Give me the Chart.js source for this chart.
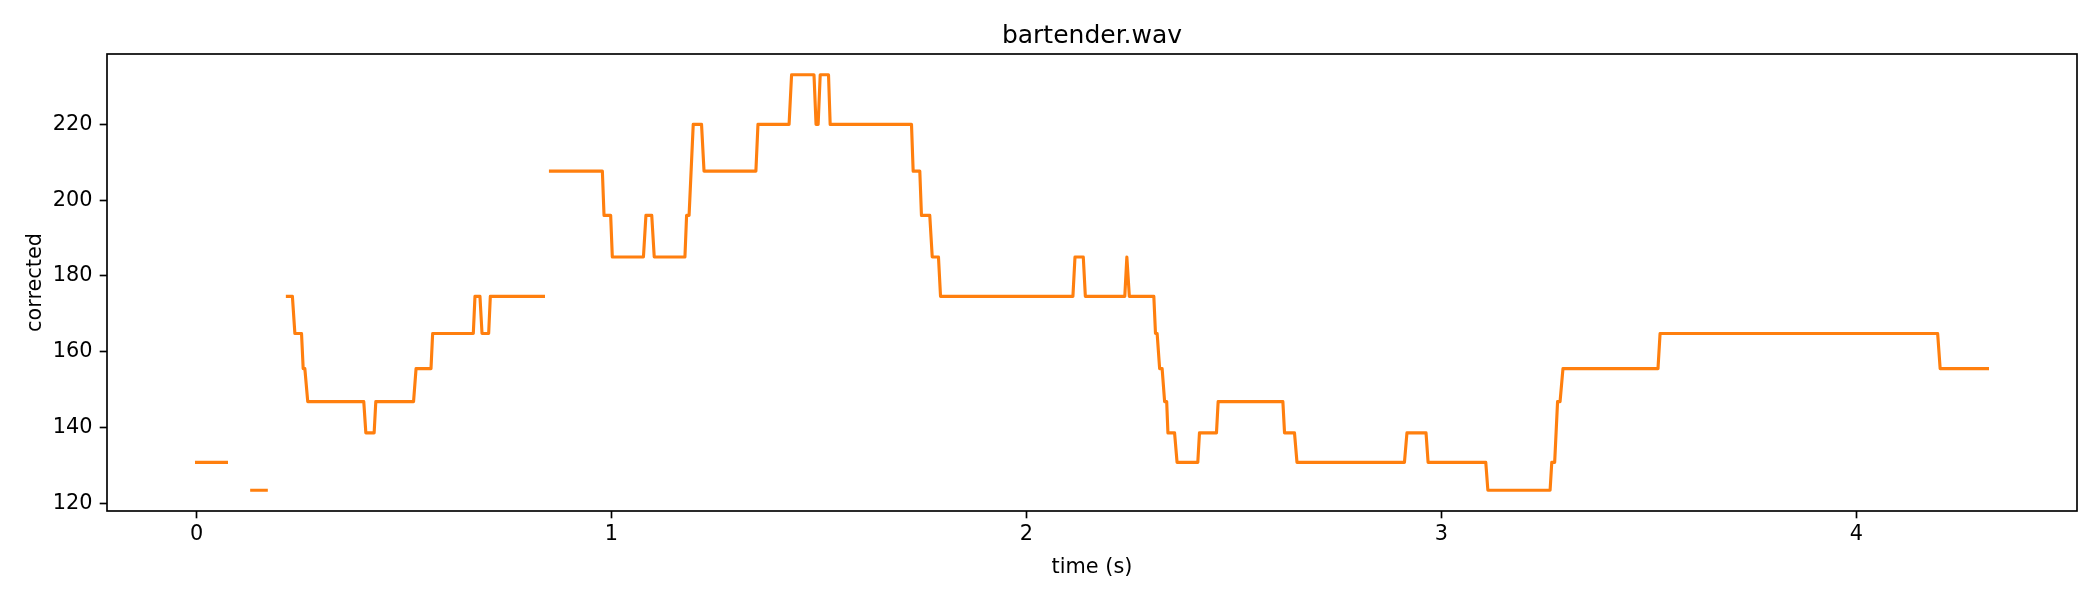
<!DOCTYPE html>
<html><head><meta charset="utf-8">
<script src="https://cdn.jsdelivr.net/npm/chart.js@4/dist/chart.umd.min.js"></script>
<style>html,body{margin:0;padding:0;background:#fff}</style>
</head><body>
<canvas id="c" width="2100" height="600" style="width:2100px;height:600px;display:block"></canvas>
<script>
const chartTitle = 'bartender.wav';
const xLabel = 'time (s)';
const yLabel = 'corrected';
const xTickValues = [0, 1, 2, 3, 4];
const yTickValues = [120, 140, 160, 180, 200, 220];

// breakpoints of the corrected pitch track (null = unvoiced gap)
const timeS = [
  0.000, 0.072, 0.100,
  0.133, 0.168, 0.190,
  0.219, 0.231, 0.237, 0.253, 0.257, 0.261, 0.268, 0.403, 0.408, 0.428,
  0.432, 0.523, 0.529, 0.565, 0.569, 0.667, 0.671, 0.683, 0.688, 0.704,
  0.708, 0.836, 0.845,
  0.853, 0.978, 0.982, 0.998, 1.002, 1.077, 1.083, 1.097, 1.103, 1.177,
  1.181, 1.187, 1.197, 1.217, 1.223, 1.348, 1.353, 1.428, 1.434, 1.488,
  1.493, 1.498, 1.503, 1.523, 1.527, 1.723, 1.727, 1.743, 1.747, 1.767,
  1.773, 1.788, 1.793, 2.112, 2.117, 2.137, 2.142, 2.237, 2.242, 2.248,
  2.307, 2.311, 2.315, 2.321, 2.327, 2.333, 2.338, 2.341, 2.357, 2.363,
  2.413, 2.417, 2.458, 2.462, 2.618, 2.622, 2.646, 2.652, 2.911, 2.917,
  2.963, 2.968, 3.107, 3.112, 3.262, 3.266, 3.273, 3.280, 3.286, 3.293,
  3.522, 3.527, 4.196, 4.202, 4.316
];
const pitchHz = [
  130.81, 130.81, null,
  123.47, 123.47, null,
  174.61, 174.61, 164.81, 164.81, 155.56, 155.56, 146.83, 146.83, 138.59, 138.59,
  146.83, 146.83, 155.56, 155.56, 164.81, 164.81, 174.61, 174.61, 164.81, 164.81,
  174.61, 174.61, null,
  207.65, 207.65, 196.00, 196.00, 185.00, 185.00, 196.00, 196.00, 185.00, 185.00,
  196.00, 196.00, 220.00, 220.00, 207.65, 207.65, 220.00, 220.00, 233.08, 233.08,
  220.00, 220.00, 233.08, 233.08, 220.00, 220.00, 207.65, 207.65, 196.00, 196.00,
  185.00, 185.00, 174.61, 174.61, 185.00, 185.00, 174.61, 174.61, 185.00, 174.61,
  174.61, 164.81, 164.81, 155.56, 155.56, 146.83, 146.83, 138.59, 138.59, 130.81,
  130.81, 138.59, 138.59, 146.83, 146.83, 138.59, 138.59, 130.81, 130.81, 138.59,
  138.59, 130.81, 130.81, 123.47, 123.47, 130.81, 130.81, 146.83, 146.83, 155.56,
  155.56, 164.81, 164.81, 155.56, 155.56
];

const points = timeS.map((t, i) => ({ x: t, y: pitchHz[i] }));
const validY = pitchHz.filter(v => v !== null);
const xMinD = Math.min(...timeS.filter((t, i) => pitchHz[i] !== null));
const xMaxD = Math.max(...timeS.filter((t, i) => pitchHz[i] !== null));
const yMinD = Math.min(...validY), yMaxD = Math.max(...validY);
const xm = (xMaxD - xMinD) * 0.05, ym = (yMaxD - yMinD) * 0.05;

Chart.defaults.font.family = "'DejaVu Sans', sans-serif";
Chart.defaults.color = '#000';

const frame = {
  id: 'frame',
  afterDraw(chart) {
    const { ctx, chartArea: a } = chart;
    ctx.save();
    ctx.strokeStyle = '#000';
    ctx.lineWidth = 1.67;
    ctx.strokeRect(a.left, a.top, a.right - a.left, a.bottom - a.top);
    ctx.restore();
  }
};

const FS = 20.83;
new Chart(document.getElementById('c'), {
  type: 'line',
  data: { datasets: [{
    data: points,
    borderColor: '#ff7f0e',
    borderWidth: 3.125,
    pointRadius: 0,
    tension: 0,
    spanGaps: false,
    fill: false,
    borderCapStyle: 'square',
    borderJoinStyle: 'round'
  }] },
  options: {
    responsive: false,
    animation: false,
    devicePixelRatio: 1,
    layout: { padding: { left: 0, right: 23, top: 0, bottom: 0 } },
    plugins: {
      legend: { display: false },
      tooltip: { enabled: false },
      title: {
        display: true, text: chartTitle, fullSize: false, color: '#000',
        font: { size: 25, weight: 'normal', lineHeight: 1.2 },
        padding: { top: 21.9, bottom: 2.1 }
      }
    },
    scales: {
      x: {
        type: 'linear',
        min: xMinD - xm, max: xMaxD + xm,
        afterFit: s => { s.height = 89; },
        afterBuildTicks: s => { s.ticks = xTickValues.map(v => ({ value: v })); },
        grid: { display: true, drawOnChartArea: false, drawTicks: true, tickLength: 7.3, tickWidth: 1.67, tickColor: '#000' },
        border: { display: false },
        ticks: { font: { size: FS }, color: '#000', padding: 4, maxRotation: 0, autoSkip: false, callback: v => String(v) },
        title: { display: true, text: xLabel, color: '#000', font: { size: FS, lineHeight: 1.2 }, padding: { top: 0, bottom: 19.9 } }
      },
      y: {
        type: 'linear',
        min: yMinD - ym, max: yMaxD + ym,
        afterFit: s => { s.width = 107; },
        afterBuildTicks: s => { s.ticks = yTickValues.map(v => ({ value: v })); },
        grid: { display: true, drawOnChartArea: false, drawTicks: true, tickLength: 7.3, tickWidth: 1.67, tickColor: '#000' },
        border: { display: false },
        ticks: { font: { size: FS }, color: '#000', padding: 7.3, autoSkip: false, callback: v => String(v) },
        title: { display: true, text: yLabel, color: '#000', font: { size: FS, lineHeight: 1.2 }, padding: { top: 23.5, bottom: 0 } }
      }
    }
  },
  plugins: [frame]
});
</script>
</body></html>
